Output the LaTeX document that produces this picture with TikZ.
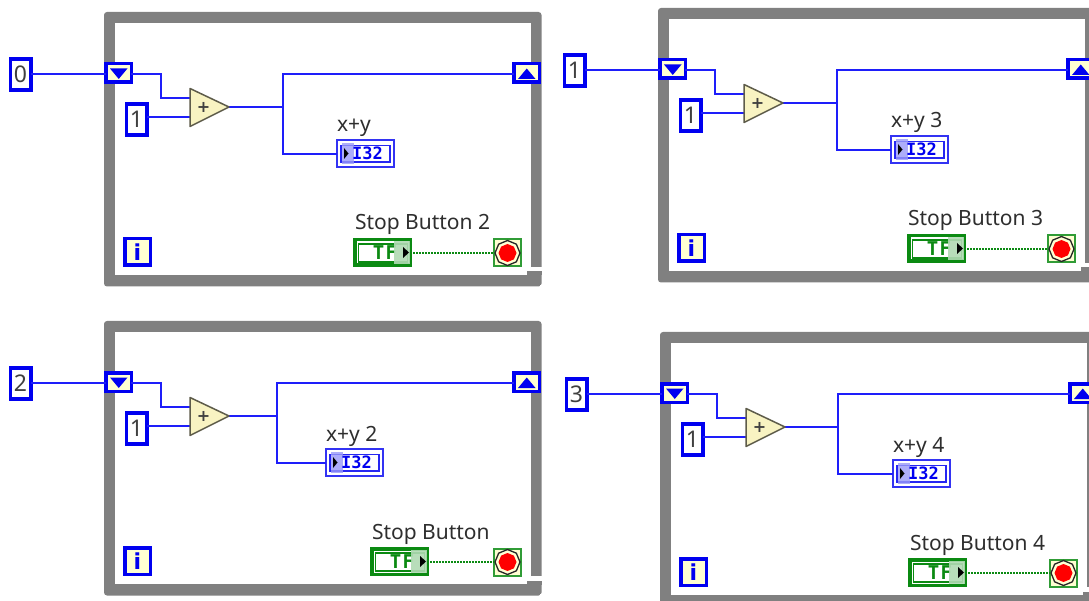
\documentclass[tikz,border=0pt]{standalone}
\usepackage{fontspec}
\setmainfont{Noto Sans}
\newfontfamily\monob{DejaVu Sans Mono Bold}
\newfontfamily\sansb{DejaVu Sans Bold}
\usetikzlibrary{shapes.geometric,calc}
\definecolor{lvblue}{HTML}{0000F0}
\definecolor{wireblue}{HTML}{1E1EFA}
\definecolor{cream}{HTML}{FFFFD2}
\definecolor{framegray}{HTML}{808080}
\definecolor{lvgreen}{HTML}{0B8A12}
\definecolor{addfill}{HTML}{F8F3C2}
\tikzset{
  x=1pt,y=-1pt,
  box/.style={rectangle,draw=lvblue,line width=3.5pt,inner sep=0pt,outer sep=0pt},
  constbox/.style={box,fill=white,minimum width=20.5pt,minimum height=31pt,font=\fontsize{23}{23}\selectfont,text=black!75},
  regbox/.style={box,fill=cream,minimum width=25.5pt,minimum height=18.5pt},
  iterbox/.style={box,fill=cream,minimum width=25.5pt,minimum height=26.5pt,font=\fontsize{22}{22}\selectfont\sansb,text=lvblue},
  wire/.style={draw=wireblue,line width=2pt},
  boolwire/.style={draw=lvgreen,line width=1.5pt,dash pattern=on 1.5pt off 1.5pt},
  lab/.style={anchor=base west,inner sep=0pt,outer sep=0pt,font=\fontsize{21}{21}\selectfont,text=black!82},
  indout/.style={rectangle,draw=lvblue!80,fill=white,line width=2pt,inner sep=0pt,outer sep=0pt,minimum width=57pt,minimum height=27pt},
  tfout/.style={rectangle,draw=lvgreen,fill=white,line width=3.5pt,inner sep=0pt,outer sep=0pt,minimum width=55.5pt,minimum height=25.5pt},
  stopbox/.style={rectangle,draw=lvgreen!85,fill=cream,line width=2pt,inner sep=0pt,outer sep=0pt,minimum width=27pt,minimum height=27pt},
  addmark/.style={inner sep=0pt,font=\fontsize{16}{16}\selectfont\sansb,text=black!75},
  tag/.style={inner sep=0pt,outer sep=0pt,font=\fontsize{17}{17}\selectfont\monob},
  tftag/.style={inner sep=0pt,outer sep=0pt,font=\fontsize{19}{19}\selectfont\monob},
}
% #1 prefix, #2 dx, #3 dy, #4 constant, #5 junction x, #6 indicator left x, #7 label, #8 TF left x
\newcommand{\lvpanel}[8]{%
\begin{scope}[shift={(#2,#3)}]
  % frame
  \fill[framegray,rounded corners=3pt] (104,12) rectangle (541.5,286.5);
  \fill[white] (115,23) rectangle (530.5,275);
  \fill[white] (530,267) rectangle (542,271.5);
  \fill[framegray] (527,271.5) rectangle (541.5,275.5);
  \fill[white] (539.5,285) rectangle (542,287);
  \node[constbox] (#1c) at (20.5,74.5) {#4};
  \node[regbox] (#1l) at (118.5,73) {};
  \node[regbox] (#1r) at (526.5,73) {};
  \node[constbox] (#1o) at (136.5,119.5) {1};
  \coordinate (#1a1) at (190,98);
  \coordinate (#1a2) at (190,117);
  \coordinate (#1ao) at (229,107);
  \coordinate (#1j) at (#5,107);
  \coordinate (#1t) at (#5,74);
  \coordinate (#1b) at (#5,154);
  \coordinate (#1k1) at (161,74);
  \coordinate (#1k2) at (161,98);
  \node[indout] (#1i) at ({#6+29.5},153.5) {};
  \node[tfout] (#1f) at ({#8+29.5},252.5) {};
  \node[stopbox] (#1s) at (507.5,253) {};
  \node[iterbox] (#1n) at (137.5,252) {i};
  % wires
  \draw[wire] (#1c.east |- #1t) -- (#1t -| #1l.west);
  \draw[wire] (#1t -| #1l.east) -- (#1k1) -- (#1k2) -- (#1a1);
  \draw[wire] (#1o.east |- #1a2) -- (#1a2);
  \draw[wire] (#1ao) -- (#1j);
  \draw[wire] (#1j) -- (#1t) -- (#1t -| #1r.west);
  \draw[wire] (#1j) -- (#1b) -- (#1b -| #1i.west);
  \draw[boolwire] (#1f.east |- #1s) -- (#1s.west);
  % add primitive
  \path[draw=black!62!addfill,fill=addfill,line width=1.5pt,line join=round] (190,88.5) -- (229,107) -- (190,126.5) -- cycle;
  \node[addmark] (#1p) at (203.5,107.5) {+};
  % shift register arrows
  \fill[lvblue] (110,68.5) -- (127.5,68.5) -- (118.75,79) -- cycle;
  \fill[lvblue] (518,79) -- (535.5,79) -- (526.75,68.5) -- cycle;
  % indicator inner
  \begin{scope}[shift={(#6,0)}]
    \draw[lvblue!85,line width=1.6pt] (5,145.5) rectangle (54,162);
    \fill[lvblue!40,opacity=.8] (5.5,143) rectangle (18,164);
    \fill[black] (8,148) -- (12.5,153.5) -- (8,159) -- cycle;
    \node[tag,text=lvblue] (#1d) at (31.5,153.5) {I32};
  \end{scope}
  % TF inner
  \begin{scope}[shift={(#8,0)}]
    \draw[lvgreen,line width=1.6pt] (5.5,244) rectangle (54.5,262);
    \node[tftag,text=lvgreen] (#1g) at (32,253) {T\hspace{1.5pt}F};
    \fill[lvgreen!32,opacity=.9] (41,241) rectangle (57,264);
    \fill[black] (50,247) -- (56,252.5) -- (50,258) -- cycle;
  \end{scope}
  % stop terminal
  \node[regular polygon,regular polygon sides=8,shape border rotate=22.5,draw=black!85,fill=cream,line width=1.3pt,inner sep=0pt,minimum size=25pt] (#1u) at (507.5,253) {};
  \node[regular polygon,regular polygon sides=8,shape border rotate=22.5,fill=red,inner sep=0pt,minimum size=18pt] (#1w) at (507.5,253) {};
  \node[lab] (#1v) at ({#6+1},132) {#7};
\end{scope}}
\begin{document}
\begin{tikzpicture}
\useasboundingbox (0,0) rectangle (1089,601);
\clip (0,0) rectangle (1089,601);
\fill[white] (0,0) rectangle (1089,601);
\lvpanel{a}{0}{0}{0}{283}{336}{x+y}{353}
\node[lab] (al) at (355,230) {Stop Button 2};
\lvpanel{b}{554}{-4}{1}{283}{336}{x+y 3}{353}
\node[lab] (bl) at (908,226) {Stop Button 3};
\lvpanel{c}{0}{309}{2}{277}{325}{x+y 2}{370}
\node[lab] (cl) at (372,539) {Stop Button};
\lvpanel{d}{556}{320}{3}{282}{336}{x+y 4}{352}
\node[lab] (dl) at (910,550) {Stop Button 4};
\end{tikzpicture}
\end{document}
